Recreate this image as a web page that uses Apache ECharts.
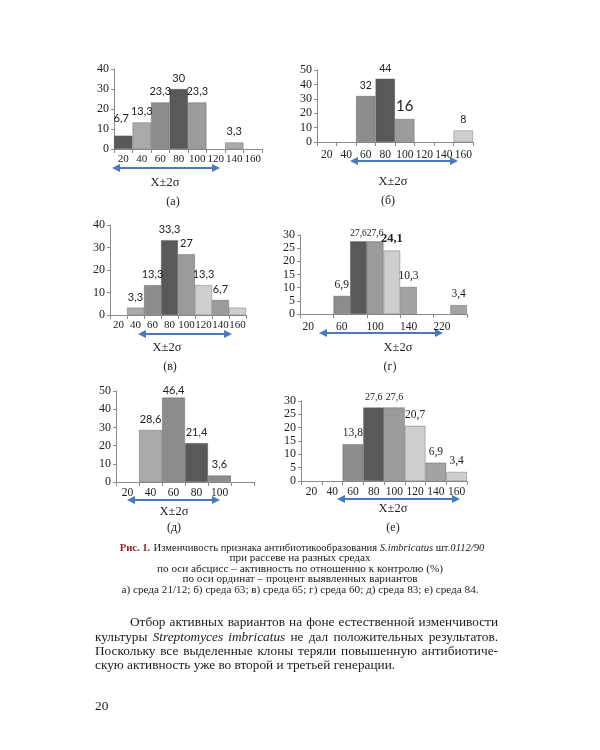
<!DOCTYPE html>
<html><head><meta charset="utf-8">
<script src="https://cdn.jsdelivr.net/npm/echarts@6/dist/echarts.min.js"></script>
<style>html,body{margin:0;padding:0;background:#fff}#c{width:600px;height:750px}</style>
</head><body><div id="c"></div>
<script>
// ---- data ----
const catsA = ['20','40','60','80','100','120','140','160'];
const valsA = [6.7, 13.3, 23.3, 30, 23.3, null, 3.3, null];
const catsB = ['20','40','60','80','100','120','140','160'];
const valsB = [null, null, 32, 44, 16, null, null, 8];
const catsV = ['20','40','60','80','100','120','140','160'];
const valsV = [null, 3.3, 13.3, 33.3, 27, 13.3, 6.7, 3.3];
const catsG = ['20','40','60','80','100','120','140','180','220','240'];
const valsG = [null, null, 6.9, 27.6, 27.6, 24.1, 10.3, null, null, 3.4];
const catsD = ['20','40','60','80','100',''];
const valsD = [null, 28.6, 46.4, 21.4, 3.6, null];
const catsE = ['20','40','60','80','100','120','140','160'];
const valsE = [null, null, 13.8, 27.6, 27.6, 20.7, 6.9, 3.4];
const panelNames = ['(а)','(б)','(в)','(г)','(д)','(е)'];
const axisTitle = 'X±2σ';

// ---- styles ----
const D='#595959', M='#8c8c8c', M2='#9b9b9b', L='#aaaaaa', LL='#cecece';
const colA = [D, L, M, D, M2, null, L, null];
const colB = [null, null, M, D, M2, null, null, LL];
const colV = [null, L, M, D, M2, LL, M2, LL];
const colG = [null, null, M, D, M2, LL, '#a3a3a3', null, null, '#a3a3a3'];
const colD = [null, L, M, D, M, null];
const colE = [null, null, M, D, M2, LL, '#a3a3a3', LL];

const SERIF = '"Liberation Serif","DejaVu Serif",serif';
const SANS = 'Lato,"Liberation Sans",sans-serif';

const panels = [
  {cats:catsA, vals:valsA, cols:colA, left:114, top:69, width:148, height:80, max:40, step:10, xm:5, xf:11, lf:SANS, ls:11, special:{0:{offset:[-2,-7]}}},
  {cats:catsB, vals:valsB, cols:colB, left:317, top:70, width:156, height:72, max:50, step:10, xm:7, xf:11.5, lf:SANS, ls:10.5, special:{4:{fontSize:15}}},
  {cats:catsV, vals:valsV, cols:colV, left:110, top:225, width:136, height:90, max:40, step:10, xm:5, xf:11, lf:SANS, ls:11, special:{7:{show:false}}},
  {cats:catsG, vals:valsG, cols:colG, left:300, top:235, width:167, height:79, max:30, step:5, xm:7, xf:11.5, lf:SERIF, ls:11.5, interval:1,
     special:{3:{fontSize:9.5, distance:3}, 4:{fontSize:9.5, distance:3}, 5:{fontSize:12.5, fontWeight:'bold', distance:5}}},
  {cats:catsD, vals:valsD, cols:colD, left:116, top:391, width:138, height:91, max:50, step:10, xm:5, xf:11.5, lf:SANS, ls:11, special:{2:{distance:2}}},
  {cats:catsE, vals:valsE, cols:colE, left:301, top:401, width:166, height:80, max:30, step:5, xm:5, xf:11.5, lf:SERIF, ls:11.5,
     special:{3:{fontSize:10}, 4:{fontSize:10}}}
];

const fmt = v => String(v).replace('.', ',');

const grid = [], xAxis = [], yAxis = [], series = [];
panels.forEach((p, i) => {
  grid.push({left:p.left, top:p.top, width:p.width, height:p.height, containLabel:false});
  xAxis.push({
    type:'category', gridIndex:i, data:p.cats, boundaryGap:true,
    axisLine:{lineStyle:{color:'#8a8a8a', width:1}},
    axisTick:{show:true, length:4, lineStyle:{color:'#8a8a8a'}},
    axisLabel:{interval: p.interval !== undefined ? p.interval : 0, margin:p.xm, fontFamily:SERIF, fontSize:p.xf, color:'#222'}
  });
  yAxis.push({
    type:'value', gridIndex:i, min:0, max:p.max, interval:p.step,
    axisLine:{show:true, lineStyle:{color:'#8a8a8a', width:1}},
    axisTick:{show:true, length:3, lineStyle:{color:'#8a8a8a'}},
    splitLine:{show:false},
    axisLabel:{margin:5, fontFamily:SERIF, fontSize:12, color:'#222'}
  });
  const data = p.vals.map((v, k) => {
    if (v === null) return null;
    const item = {value:v, itemStyle:{color:p.cols[k]}};
    if (p.special[k]) item.label = Object.assign({}, p.special[k]);
    return item;
  });
  series.push({
    type:'bar', xAxisIndex:i, yAxisIndex:i, data:data, barCategoryGap:'0%', barGap:'0%',
    itemStyle:{borderColor:'rgba(70,70,70,0.55)', borderWidth:0.6},
    label:{show:true, position:'top', distance:5, fontFamily:p.lf, fontSize:p.ls, color:'#222',
      formatter: d => fmt(d.value)},
    silent:true, animation:false
  });
});

// ---- annotations ----
const BLUE = '#4a78c0';
function arrow(x1, x2, y) {
  const h = 8, w = 4;
  return {type:'group', children:[
    {type:'line', shape:{x1:x1+h-1, y1:y, x2:x2-h+1, y2:y}, style:{stroke:BLUE, lineWidth:2.2}},
    {type:'polygon', shape:{points:[[x1,y],[x1+h,y-w],[x1+h,y+w]]}, style:{fill:BLUE}},
    {type:'polygon', shape:{points:[[x2,y],[x2-h,y-w],[x2-h,y+w]]}, style:{fill:BLUE}}
  ]};
}
function txt(t, x, y, size, extra) {
  return {type:'text', x:x, y:y, style:Object.assign({text:t, align:'center', verticalAlign:'middle',
    fontFamily:SERIF, fontSize:size, fill:'#222'}, extra || {})};
}
const arrows = [[112,220,168],[350,458,161],[138,232,334],[319,443,333],[127,220,500],[337,460,499]];
const titlePos = [[165,183],[393,182],[167,348],[398,348],[174,512],[393,509]];
const namePos = [[173,202],[388,201],[170,367],[390,367],[174,528],[393,528]];

const graphic = [];
arrows.forEach(a => graphic.push(arrow(a[0], a[1], a[2])));
titlePos.forEach(p => graphic.push(txt(axisTitle, p[0], p[1], 12.5)));
namePos.forEach((p, i) => graphic.push(txt(panelNames[i], p[0], p[1], 12)));

// caption
const capSize = 11.2, cap1Size = 10.6;
graphic.push({type:'text', x:302, y:548, style:{
  text:'{r|Рис. 1.} {n|Изменчивость признака антибиотикообразования }{i|S.imbricatus}{n| шт.}{i|0112/90}',
  align:'center', verticalAlign:'middle',
  rich:{
    r:{fontFamily:SERIF, fontSize:cap1Size, fontWeight:'bold', fill:'#9e1f26'},
    n:{fontFamily:SERIF, fontSize:cap1Size, fill:'#222'},
    i:{fontFamily:SERIF, fontSize:cap1Size, fontStyle:'italic', fill:'#222'}
  }}});
const capLines = [
  ['при рассеве на разных средах', 558],
  ['по оси абсцисс – активность по отношению к контролю (%)', 569],
  ['по оси ординат – процент выявленных вариантов', 579],
  ['а) среда 21/12; б) среда 63; в) среда 65; г) среда 60; д) среда 83; е) среда 84.', 590]
];
capLines.forEach(c => graphic.push(txt(c[0], 300, c[1], capSize)));

// body paragraph (justified, word widths measured by the renderer itself)
const BODY = 13.3;
const BODYFONT = '"Liberation Serif"';
function measure(w, italic) {
  const t = new echarts.graphic.Text({style:{text:w, fontFamily:BODYFONT, fontSize:BODY, fontStyle: italic ? 'italic' : 'normal'}});
  return t.getBoundingRect().width;
}
function bodyLine(text, italicWords, x0, x1, y, justify) {
  const words = text.split(' ');
  const widths = words.map(w => measure(w, italicWords.includes(w)));
  const sum = widths.reduce((a, b) => a + b, 0);
  const gap = justify ? (x1 - x0 - sum) / (words.length - 1) : measure(' ', false);
  let x = x0;
  words.forEach((w, k) => {
    graphic.push({type:'text', x:x, y:y, style:{text:w, align:'left', verticalAlign:'middle',
      fontFamily:BODYFONT, fontSize:BODY, fontStyle: italicWords.includes(w) ? 'italic' : 'normal', fill:'#1a1a1a'}});
    x += widths[k] + gap;
  });
}
bodyLine('Отбор активных вариантов на фоне естественной изменчивости', [], 130, 498, 623, true);
bodyLine('культуры Streptomyces imbricatus не дал положительных результатов.', ['Streptomyces','imbricatus'], 95, 498, 638, true);
bodyLine('Поскольку все выделенные клоны теряли повышенную антибиотиче-', [], 95, 498, 652, true);
bodyLine('скую активность уже во второй и третьей генерации.', [], 95, 498, 666, false);
graphic.push({type:'text', x:95, y:707, style:{text:'20', align:'left', verticalAlign:'middle',
  fontFamily:BODYFONT, fontSize:13.3, fill:'#1a1a1a'}});

const chart = echarts.init(document.getElementById('c'), null, {renderer:'canvas'});
chart.setOption({backgroundColor:'#ffffff', animation:false, grid, xAxis, yAxis, series, graphic});
</script>
</body></html>
